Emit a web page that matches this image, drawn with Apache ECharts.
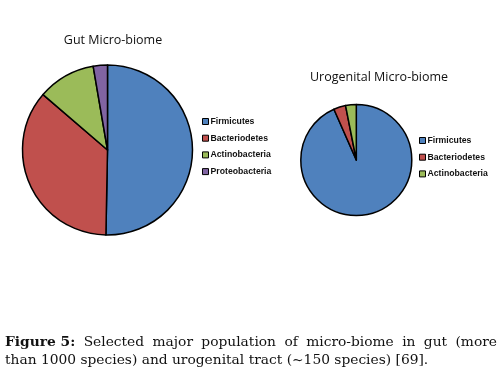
<!DOCTYPE html>
<html>
<head>
<meta charset="utf-8">
<script src="https://cdn.jsdelivr.net/npm/echarts@6/dist/echarts.min.js"></script>
<style>
  html, body { margin: 0; padding: 0; background: #fff; }
  #chart { width: 502px; height: 386px; }
</style>
</head>
<body>
<div id="chart"></div>
<script>
// phyla in each micro-biome (percent)
const gutNames = ['Firmicutes', 'Bacteriodetes', 'Actinobacteria', 'Proteobacteria']
const gutValues = [50.3, 36.0, 11.0, 2.7]
const uroNames = ['Firmicutes', 'Bacteriodetes', 'Actinobacteria']
const uroValues = [93.4, 3.5, 3.1]
const colors = ['#4F81BD', '#C0504D', '#9BBB59', '#8064A2']

const captionLine1 = ['Figure 5:', 'Selected', 'major', 'population', 'of', 'micro-biome', 'in', 'gut', '(more']
const captionLine2 = 'than 1000 species) and urogenital tract (~150 species) [69].'

const chart = echarts.init(document.getElementById('chart'))

function toData(names, values) {
  return names.map((n, i) => ({ name: n, value: values[i], itemStyle: { color: colors[i] } }))
}

// justify the first caption line like the printed figure
const capFont = '13.8px "DejaVu Serif", serif'
const capBold = 'bold 13.8px "DejaVu Serif", serif'
const ctx = document.createElement('canvas').getContext('2d')
const widths = captionLine1.map((w, i) => {
  ctx.font = i === 0 ? capBold : capFont
  return ctx.measureText(w).width
})
const lineLeft = 5
const lineRight = 497
const total = widths.reduce((a, b) => a + b, 0)
const gap = (lineRight - lineLeft - total) / (captionLine1.length - 1)
let cursor = lineLeft
const captionWords = captionLine1.map((w, i) => {
  const el = {
    type: 'text',
    left: cursor,
    top: 335,
    style: {
      text: w,
      fill: '#111',
      font: i === 0 ? capBold : capFont
    }
  }
  cursor += widths[i] + gap
  return el
})

const legendBase = {
  orient: 'vertical',
  padding: 0,
  itemWidth: 6,
  itemHeight: 6,
  itemGap: 7.7,
  icon: 'rect',
  selectedMode: false,
  itemStyle: { borderColor: '#000', borderWidth: 1 },
  textStyle: {
    fontFamily: 'Liberation Sans',
    fontWeight: 'bold',
    fontSize: 8.7,
    color: '#111',
    padding: [0, 0, 0, -3]
  }
}

chart.setOption({
  animation: false,
  backgroundColor: '#fff',
  title: [
    {
      text: 'Gut Micro-biome',
      left: 108,
      top: 29,
      textAlign: 'center',
      textStyle: { fontFamily: 'Open Sans', fontWeight: 'normal', fontSize: 12.5, color: '#111' }
    },
    {
      text: 'Urogenital Micro-biome',
      left: 374,
      top: 66,
      textAlign: 'center',
      textStyle: { fontFamily: 'Open Sans', fontWeight: 'normal', fontSize: 12.5, color: '#111' }
    }
  ],
  legend: [
    Object.assign({}, legendBase, { left: 202, top: 117, data: gutNames }),
    Object.assign({}, legendBase, { left: 419, top: 136, data: uroNames })
  ],
  series: [
    {
      type: 'pie',
      center: [107.5, 150],
      radius: 85,
      startAngle: 90,
      label: { show: false },
      labelLine: { show: false },
      emphasis: { disabled: true },
      itemStyle: { borderColor: '#000', borderWidth: 1.5 },
      data: toData(gutNames, gutValues)
    },
    {
      type: 'pie',
      center: [356.3, 160],
      radius: 55.5,
      startAngle: 90,
      label: { show: false },
      labelLine: { show: false },
      emphasis: { disabled: true },
      itemStyle: { borderColor: '#000', borderWidth: 1.5 },
      data: toData(uroNames, uroValues)
    }
  ],
  graphic: captionWords.concat([
    {
      type: 'text',
      left: lineLeft,
      top: 353,
      style: { text: captionLine2, fill: '#111', font: capFont }
    }
  ])
})
</script>
</body>
</html>
